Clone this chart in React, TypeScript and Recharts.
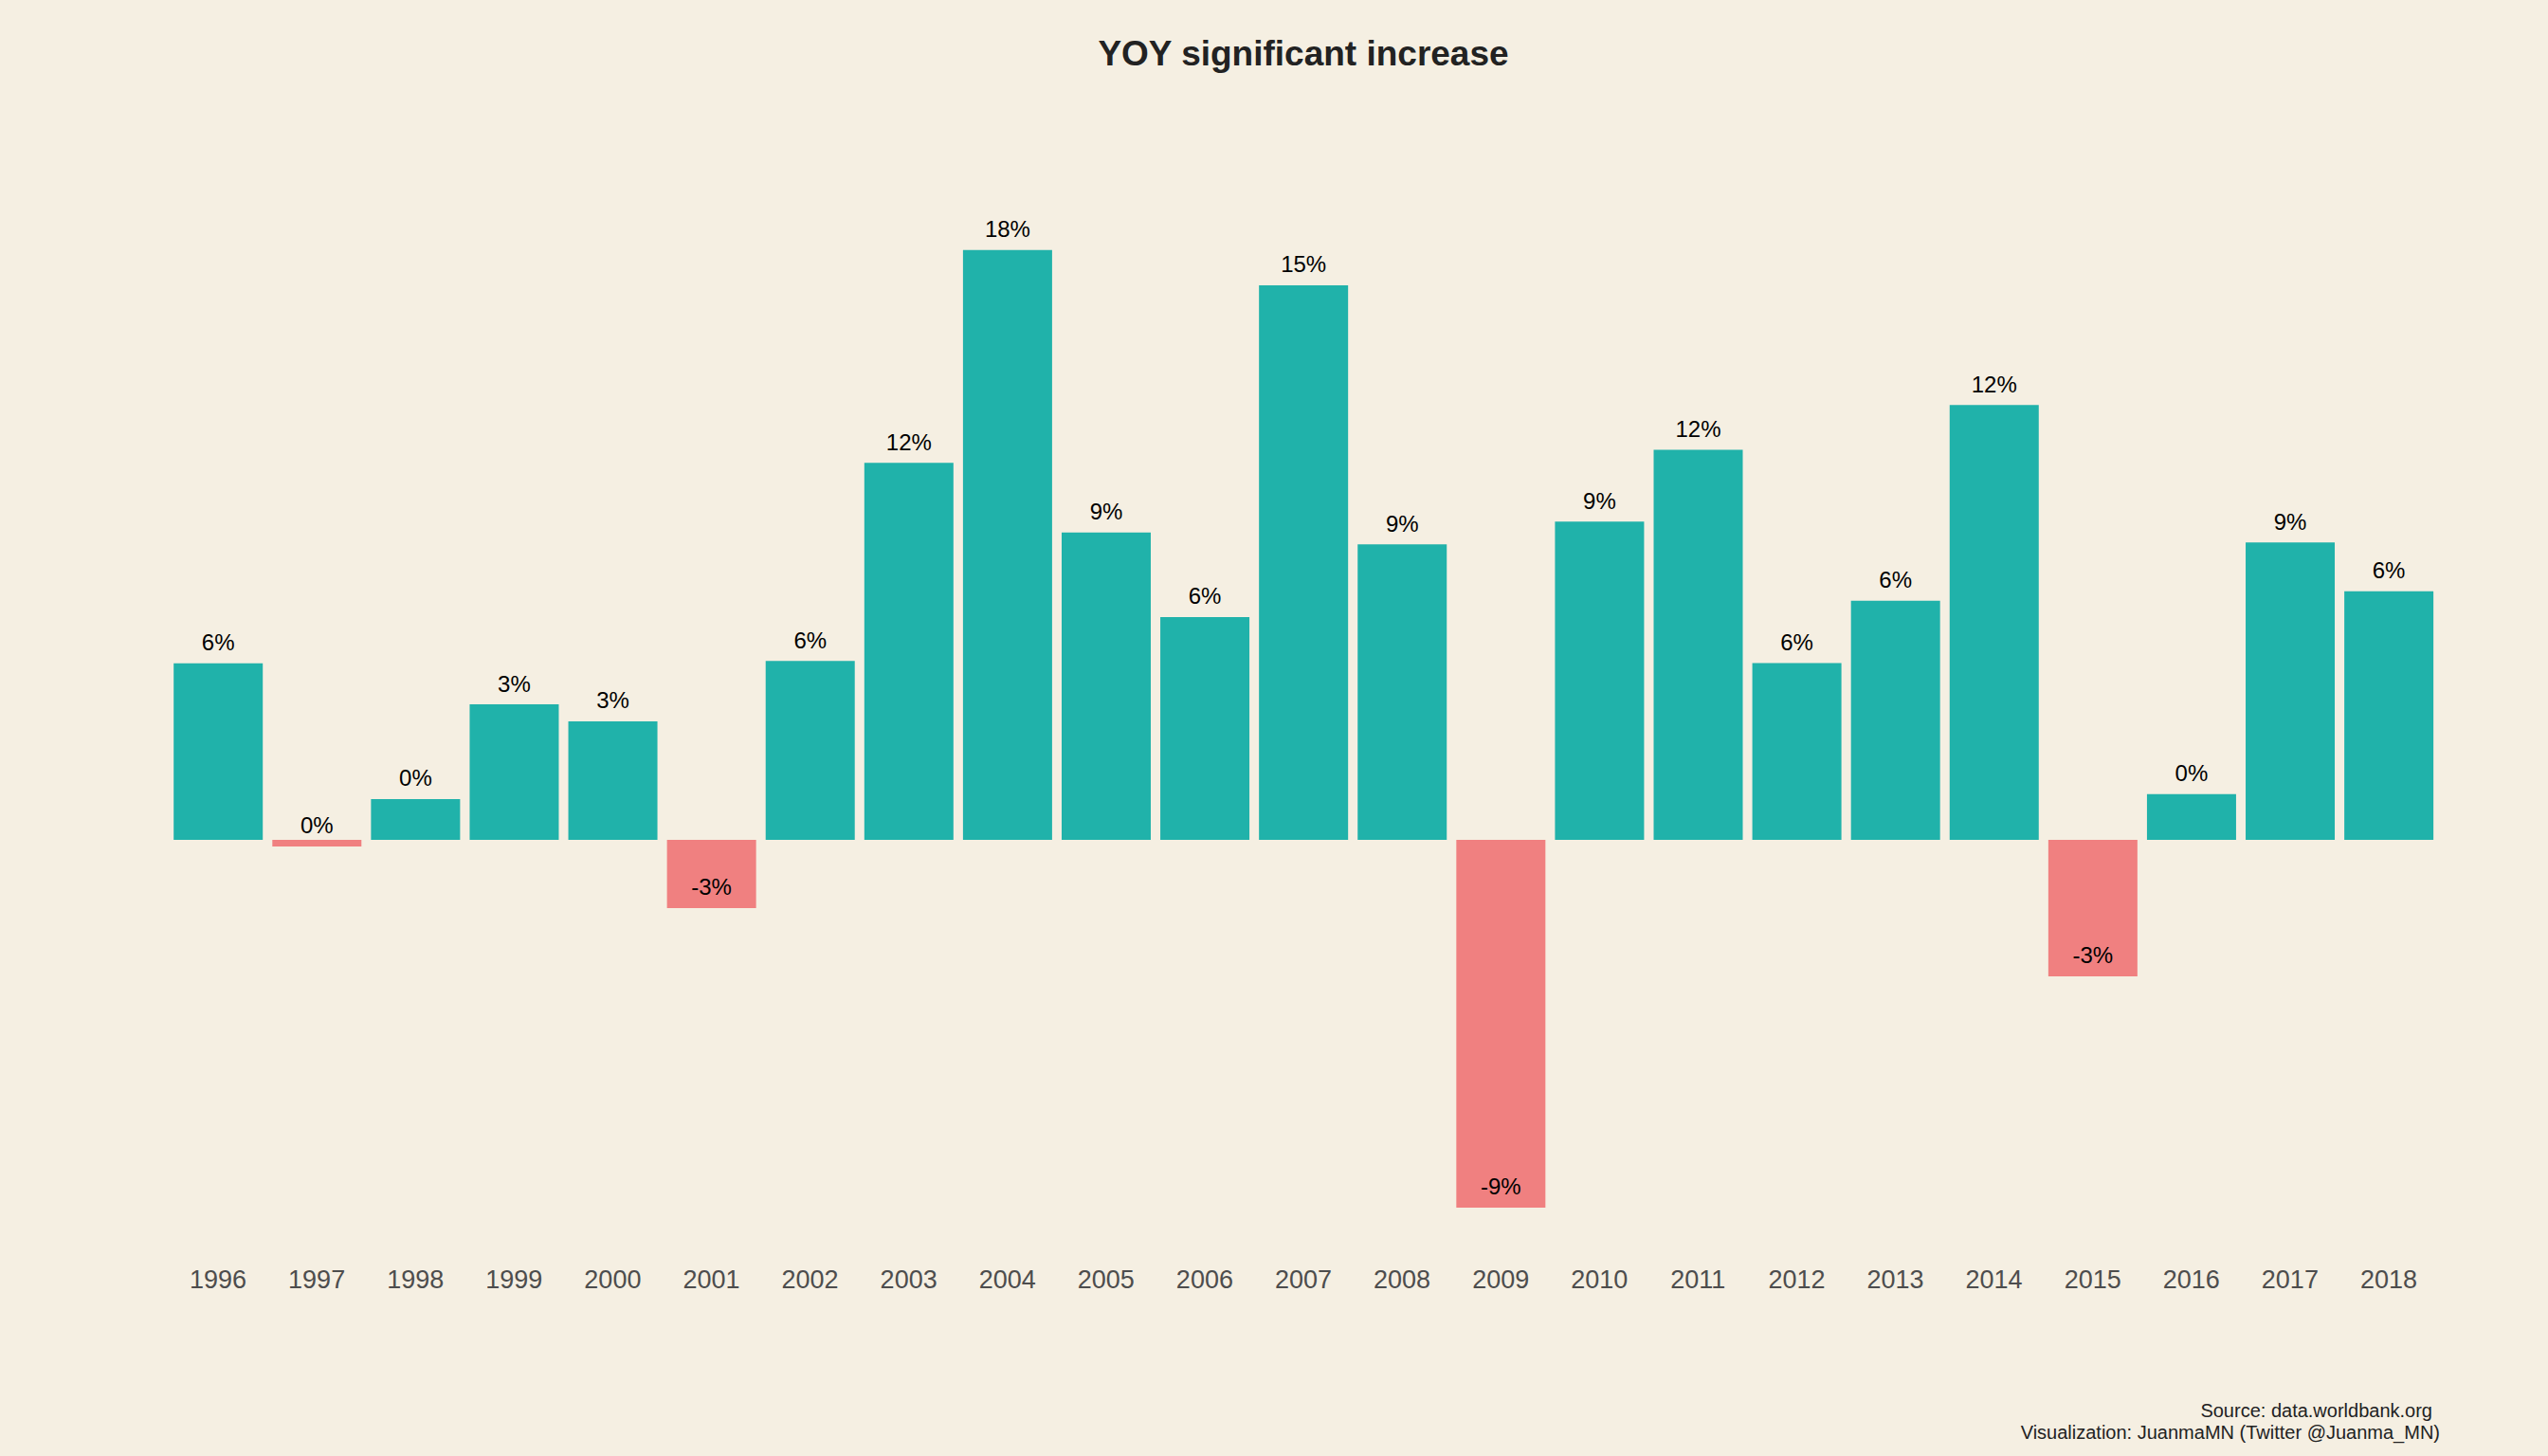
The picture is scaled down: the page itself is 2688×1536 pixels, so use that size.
import React from 'react';
import { BarChart, Bar, XAxis, YAxis, Cell, LabelList } from 'recharts';

const years = [
  '1996', '1997', '1998', '1999', '2000', '2001', '2002', '2003', '2004', '2005', '2006', '2007',
  '2008', '2009', '2010', '2011', '2012', '2013', '2014', '2015', '2016', '2017', '2018',
];
const growth = [
  4.99, -0.19, 1.15, 3.83, 3.35, -1.93, 5.06, 10.66, 16.68, 8.69, 6.3, 15.68,
  8.36, -10.4, 9.0, 11.03, 5.0, 6.76, 12.3, -3.86, 1.29, 8.41, 7.03,
];
const growthLabels = [
  '6%', '0%', '0%', '3%', '3%', '-3%', '6%', '12%', '18%', '9%', '6%', '15%',
  '9%', '-9%', '9%', '12%', '6%', '6%', '12%', '-3%', '0%', '9%', '6%',
];

const data = years.map((year, i) => ({ year, value: growth[i], label: growthLabels[i] }));

const BG = '#F5EFE2';
const UP = '#20B2AA';
const DOWN = '#F08080';
const FONT = '"Liberation Sans", Arial, sans-serif';

function ValueLabel(props: any) {
  const { x, y, width, height, index } = props;
  const d = data[index];
  if (!d) return null;
  const end = d.value >= 0 ? Math.min(y, y + height) : Math.max(y, y + height);
  return (
    <text
      x={x + width / 2}
      y={end - 22}
      dy="0.35em"
      textAnchor="middle"
      fill="#000"
      fontSize={24}
      fontFamily={FONT}
    >
      {d.label}
    </text>
  );
}

export default function App() {
  return (
    <div style={{ position: 'absolute', left: 0, top: 0, width: 2688, height: 1536, background: BG, fontFamily: FONT }}>
      <div
        style={{
          position: 'absolute', left: 178, width: 2394, top: 35, lineHeight: '44px',
          textAlign: 'center', fontSize: 37, fontWeight: 'bold', color: '#222',
        }}
      >
        YOY significant increase
      </div>
      <BarChart
        width={2688}
        height={1536}
        data={data}
        margin={{ top: 158.6, right: 116, bottom: 142.4, left: 178 }}
        barCategoryGap="5%"
      >
        <XAxis
          dataKey="year"
          axisLine={false}
          tickLine={false}
          tickSize={0}
          tickMargin={6}
          height={60}
          interval={0}
          tick={{ fill: '#4D4D4D', fontSize: 27, fontFamily: FONT }}
        />
        <YAxis hide domain={[-12, 19.5]} width={0} />
        <Bar dataKey="value" isAnimationActive={false}>
          {data.map((d) => (
            <Cell key={d.year} fill={d.value >= 0 ? UP : DOWN} />
          ))}
          <LabelList dataKey="label" content={<ValueLabel />} />
        </Bar>
      </BarChart>
      <div
        style={{
          position: 'absolute', right: 2688 - 2574, top: 1477, textAlign: 'right',
          fontSize: 20, lineHeight: '23px', color: '#222',
        }}
      >
        <div style={{ paddingRight: 8 }}>Source: data.worldbank.org</div>
        <div>Visualization: JuanmaMN (Twitter @Juanma_MN)</div>
      </div>
    </div>
  );
}
